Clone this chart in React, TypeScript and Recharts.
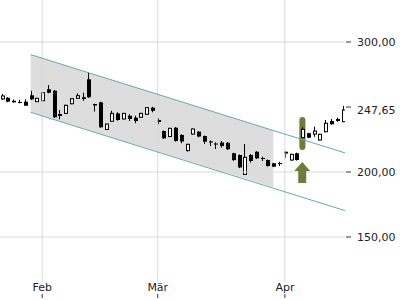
import {
  ComposedChart,
  XAxis,
  YAxis,
  Bar,
  Line,
  Area,
  ReferenceLine,
  ReferenceArea,
  ReferenceDot,
} from "recharts";

// daily candles, one per trading day
const opens = [
  256.2, 257.1, 254.8, 253.9, 254.1, 259.0, 254.1, 254.8, 263.6, 262.5,
  244.6, 245.1, 252.5, 256.7, 257.5, 271.3, 252.3, 253.6, 232.7, 239.0,
  245.1, 240.8, 243.3, 241.8, 242.1, 244.4, 249.5, 240.0, 231.5, 227.3,
  234.1, 228.5, 216.5, 229.2, 231.0, 227.7, 223.5, 221.9, 222.7, 222.5,
  214.4, 213.1, 198.1, 213.1, 215.6, 210.8, 209.2, 206.7, 206.9, 215.6,
  209.2, 214.4, 226.4, 229.8, 229.2, 224.6, 231.0, 239.2, 239.6, 238.7,
];
const highs = [
  260.0, 257.6, 255.7, 255.6, 255.9, 262.5, 257.0, 261.3, 266.9, 263.0,
  247.7, 251.8, 256.8, 260.5, 261.0, 276.5, 252.5, 254.0, 237.2, 247.1,
  246.0, 245.5, 244.4, 243.3, 245.5, 249.9, 250.2, 241.3, 232.0, 234.0,
  234.5, 229.0, 221.7, 233.5, 231.4, 228.0, 224.2, 222.8, 223.8, 223.0,
  214.8, 213.5, 221.5, 213.8, 216.0, 211.8, 209.6, 207.0, 207.9, 215.8,
  214.0, 214.9, 234.4, 230.2, 234.8, 229.4, 240.0, 240.8, 241.8, 250.8,
];
const lows = [
  255.4, 253.7, 253.4, 252.8, 250.8, 255.4, 253.8, 254.5, 260.6, 241.6,
  240.5, 244.6, 252.1, 256.4, 254.8, 257.0, 246.5, 234.0, 232.3, 238.6,
  239.5, 240.4, 239.2, 237.5, 241.7, 244.0, 245.9, 236.7, 225.5, 226.9,
  223.4, 222.1, 215.6, 228.8, 226.7, 221.5, 220.0, 217.7, 218.7, 217.0,
  208.5, 203.0, 197.8, 207.2, 210.1, 208.5, 204.2, 203.8, 204.6, 211.0,
  208.8, 208.8, 226.0, 226.0, 227.1, 224.2, 230.6, 236.4, 238.7, 238.4,
];
const closes = [
  258.5, 254.1, 253.6, 253.4, 251.0, 255.9, 256.7, 261.0, 261.0, 242.1,
  243.1, 251.3, 256.4, 258.7, 256.1, 257.5, 251.2, 234.4, 236.9, 245.1,
  240.0, 245.1, 240.8, 239.2, 245.1, 249.5, 247.1, 238.5, 225.9, 233.6,
  223.8, 223.5, 221.3, 233.1, 227.3, 223.3, 222.7, 221.2, 220.0, 217.5,
  209.2, 203.5, 211.3, 208.5, 210.5, 210.0, 204.6, 204.1, 206.2, 214.2,
  213.6, 209.2, 232.8, 226.4, 231.5, 229.0, 237.5, 236.7, 240.4, 247.65,
];

const monthTicks = [7, 27, 49];
const monthLabels = ["Feb", "Mär", "Apr"];
const priceTicks = [150, 200, 247.65, 250, 300];
const gridPrices = [150, 200, 300];
const lastPrice = 247.65;
const hiddenTick = 250;

// trend channel
const channelUpper = [
  { x: 5, v: 290.3 },
  { x: 59.4, v: 214.7 },
];
const channelLower = [
  { x: 5, v: 245.9 },
  { x: 59.4, v: 170.3 },
];
const channelShade = [
  { x: 5, band: [245.9, 290.3] },
  { x: 47, band: [188.3, 232.0] },
];

// signal
const signalIndex = 52;
const signalLow = 216.9;
const signalHigh = 242.3;
const arrowTip = 207.7;

const candles = opens.map((o, i) => ({
  x: i,
  o,
  h: highs[i],
  l: lows[i],
  c: closes[i],
}));

const GREEN = "#6b7d3a";
const GRID = "#d9d9d9";
const FONT = "DejaVu Sans, sans-serif";

function Candle(props: any) {
  const { x, y, width, height, payload } = props;
  const { o, h, l, c } = payload;
  const k = h - l > 0 ? height / (h - l) : 0;
  const px = Math.round(x + width / 2);
  const top = y + (h - Math.max(o, c)) * k;
  const bot = y + (h - Math.min(o, c)) * k;
  const bh = Math.max(1, bot - top);
  const up = c >= o;
  return (
    <g>
      <line x1={px + 0.5} x2={px + 0.5} y1={y} y2={y + height} stroke="#000" />
      {up ? (
        <rect x={px - 0.5} y={top} width={3} height={bh} fill="#fff" stroke="#000" />
      ) : (
        <rect x={px - 1} y={top} width={4} height={bh} fill="#000" />
      )}
    </g>
  );
}

function Arrow(props: any) {
  const { cx, cy } = props;
  const d = `M${cx},${cy} L${cx + 8},${cy + 9} L${cx + 4},${cy + 9} L${cx + 4},${cy + 21} L${cx - 4},${cy + 21} L${cx - 4},${cy + 9} L${cx - 8},${cy + 9} Z`;
  return <path d={d} fill={GREEN} />;
}

function MonthTick(props: any) {
  const { x, y, payload } = props;
  const idx = monthTicks.indexOf(payload.value);
  return (
    <g>
      <text x={x} y={y + 9} textAnchor="middle" fontSize={11} fill="#222" fontFamily={FONT}>
        {monthLabels[idx]}
      </text>
      <line x1={x} x2={x} y1={y + 12} y2={y + 16} stroke="#333" />
    </g>
  );
}

function PriceTick(props: any) {
  const { x, y, payload } = props;
  const v = payload.value;
  const label = v.toFixed(2).replace(".", ",");
  return (
    <g>
      {v !== lastPrice && (
        <line x1={x + 1} x2={x + 6} y1={y} y2={y} stroke="#333" />
      )}
      {v !== hiddenTick && (
        <text x={x + 12} y={y} dy="0.355em" fontSize={11} fill="#222" fontFamily={FONT}>
          {label}
        </text>
      )}
    </g>
  );
}

export default function App() {
  return (
    <div style={{ position: "fixed", top: 0, left: 0, background: "#fff" }}>
      <ComposedChart
        width={400}
        height={300}
        data={candles}
        margin={{ top: 0, right: 0, bottom: 0, left: 0 }}
      >
        <XAxis
          type="number"
          dataKey="x"
          domain={[-0.3, 59.4]}
          ticks={monthTicks}
          tick={<MonthTick />}
          tickLine={false}
          axisLine={false}
          tickSize={0}
          tickMargin={0}
          height={18}
          interval={0}
          allowDataOverflow
        />
        <YAxis
          orientation="right"
          width={55}
          domain={[115.4, 332.3]}
          ticks={priceTicks}
          tick={<PriceTick />}
          tickLine={false}
          axisLine={false}
          tickSize={0}
          tickMargin={0}
          interval={0}
          allowDataOverflow
        />
        <Area
          data={channelShade}
          dataKey="band"
          stroke="none"
          fill="#dddddd"
          fillOpacity={1}
          dot={false}
          activeDot={false}
          isAnimationActive={false}
        />
        {gridPrices.map((p) => (
          <ReferenceLine key={p} y={p} stroke={GRID} />
        ))}
        {monthTicks.map((m) => (
          <ReferenceLine key={m} x={m} stroke={GRID} />
        ))}
        <Line
          data={channelUpper}
          dataKey="v"
          stroke="#66a9b3"
          strokeWidth={1}
          dot={false}
          activeDot={false}
          isAnimationActive={false}
        />
        <Line
          data={channelLower}
          dataKey="v"
          stroke="#66a9b3"
          strokeWidth={1}
          dot={false}
          activeDot={false}
          isAnimationActive={false}
        />
        <ReferenceArea
          x1={signalIndex - 0.5}
          x2={signalIndex + 0.55}
          y1={signalLow}
          y2={signalHigh}
          fill={GREEN}
          fillOpacity={1}
          stroke="none"
          radius={3}
        />
        <Bar
          dataKey={(d: any) => [d.l, d.h]}
          barSize={5}
          shape={<Candle />}
          isAnimationActive={false}
        />
        <ReferenceDot x={signalIndex} y={arrowTip} r={1} shape={<Arrow />} />
      </ComposedChart>
    </div>
  );
}
